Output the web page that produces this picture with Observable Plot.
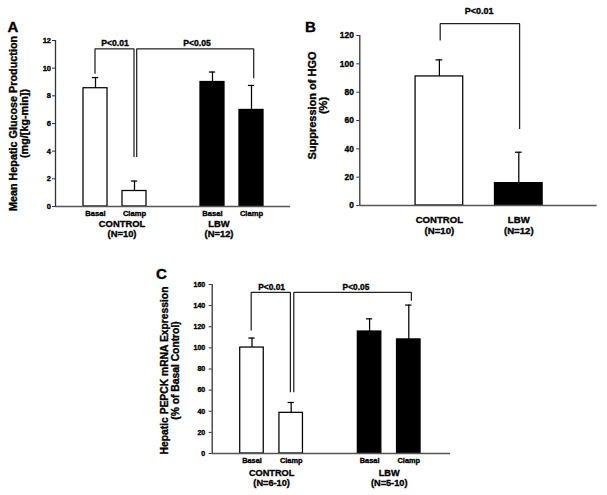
<!DOCTYPE html>
<html><head><meta charset="utf-8">
<script src="https://cdn.jsdelivr.net/npm/d3@7"></script>
<script src="https://cdn.jsdelivr.net/npm/@observablehq/plot@0.6"></script>
<style>
body{margin:0;background:#fff}
#fig{position:relative;width:607px;height:495px;overflow:hidden;background:#fff}
#fig text{stroke:#000;stroke-width:0.35px}
</style></head><body><div id="fig"></div>
<script>
// ---------- Panel A data ----------
const aGroups = ["CONTROL", "LBW"];
const aGroupN = ["(N=10)", "(N=12)"];
const aBarGroup = ["CONTROL", "CONTROL", "LBW", "LBW"];
const aBarLabel = ["Basal", "Clamp", "Basal", "Clamp"];
const aMean = [8.55, 1.12, 9.0, 6.98];
const aSEM = [0.77, 0.72, 0.72, 1.77];
const aYTicks = [0, 2, 4, 6, 8, 10, 12];
const aBrFrom = [0, 1], aBrTo = [1, 3];
const aBrTop = [11.4, 11.4], aBrFromEnd = [9.6, 3.58], aBrToEnd = [3.58, 9.28];
const aBrLabel = ["P<0.01", "P<0.05"];
const aTitle = "Mean Hepatic Glucose Production\n(mg/[kg-min])";

// ---------- Panel B data ----------
const bGroups = ["CONTROL", "LBW"];
const bGroupN = ["(N=10)", "(N=12)"];
const bBarGroup = ["CONTROL", "LBW"];
const bBarLabel = ["", ""];
const bMean = [91.1, 15.8];
const bSEM = [11.7, 21.8];
const bYTicks = [0, 20, 40, 60, 80, 100, 120];
const bBrFrom = [0], bBrTo = [1];
const bBrTop = [128.3], bBrFromEnd = [116.5], bBrToEnd = [54];
const bBrLabel = ["P<0.01"];
const bTitle = "Suppression of HGO\n(%)";

// ---------- Panel C data ----------
const cGroups = ["CONTROL", "LBW"];
const cGroupN = ["(N=6-10)", "(N=5-10)"];
const cBarGroup = ["CONTROL", "CONTROL", "LBW", "LBW"];
const cBarLabel = ["Basal", "Clamp", "Basal", "Clamp"];
const cMean = [100.3, 38.5, 115.5, 108.0];
const cSEM = [9.0, 9.8, 12.0, 32.5];
const cYTicks = [0, 20, 40, 60, 80, 100, 120, 140, 160];
const cBrFrom = [0, 1], cBrTo = [1, 3];
const cBrTop = [152.5, 152.5], cBrFromEnd = [116.5, 58], cBrToEnd = [58, 144.5];
const cBrLabel = ["P<0.01", "P<0.05"];
const cTitle = "Hepatic PEPCK mRNA Expression\n(% of Basal Control)";

const groupFill = {CONTROL: "white", LBW: "black"};
const FONT = '"Liberation Sans", Arial, Helvetica, sans-serif';

function makeBars(groups, barGroup, barLabel, mean, sem, perGroup) {
  const seen = {};
  return mean.map((m, i) => {
    const g = barGroup[i];
    const gi = groups.indexOf(g);
    seen[g] = (seen[g] ?? -1) + 1;
    return {x: gi * (perGroup + 1) + seen[g], mean: m, sem: sem[i], label: barLabel[i], group: g, fill: groupFill[g]};
  });
}

function panel(d, s) {
  const bars = makeBars(d.groups, d.barGroup, d.barLabel, d.mean, d.sem, d.perGroup);
  const lw = 1.25;
  const marks = [
    Plot.rect(bars, {x1: b => b.x - s.barHalf, x2: b => b.x + s.barHalf, y1: 0, y2: "mean", fill: "fill", stroke: "black", strokeWidth: lw}),
    Plot.ruleX(bars, {x: "x", y1: "mean", y2: b => b.mean + b.sem, stroke: "black", strokeWidth: lw}),
    Plot.ruleY(bars, {y: b => b.mean + b.sem, x1: b => b.x - s.capHalf, x2: b => b.x + s.capHalf, stroke: "black", strokeWidth: lw}),
    Plot.ruleY([0], {stroke: "#555", strokeWidth: 1.3}),
    Plot.ruleX([s.xDomain[0]], {stroke: "#333", strokeWidth: 1.3}),
    Plot.axisY(d.yTicks, {tickSize: 3, tickPadding: s.tickPadding, fontSize: s.tickFont, label: null, stroke: "#333"}),
    Plot.text([d.title], {frameAnchor: "left", text: t => t, rotate: -90, textAnchor: "middle", lineAnchor: "middle",
      dx: s.titleDx, dy: s.titleDy, fontSize: s.titleFont, lineHeight: s.titleLH}),
    Plot.text([s.letter], {frameAnchor: "top-left", text: t => t, textAnchor: "middle", lineAnchor: "middle",
      dx: s.letterDx, dy: s.letterDy, fontSize: 15})
  ];
  if (s.condFont) {
    marks.push(Plot.text(bars, {x: "x", y: 0, text: "label", dy: s.condDy, fontSize: s.condFont, lineAnchor: "middle"}));
  }
  d.groups.forEach((g, gi) => {
    const xs = bars.filter(b => b.group === g).map(b => b.x);
    marks.push(Plot.text([g + "\n" + d.groupN[gi]], {x: d3.mean(xs), y: 0, text: t => t, dy: s.groupDy, dx: s.groupDx[gi],
      fontSize: s.groupFont, lineHeight: s.groupLH, lineAnchor: "middle"}));
  });
  d.brFrom.forEach((f, j) => {
    const x1 = bars[f].x, x2 = bars[d.brTo[j]].x;
    const pts = [{x: x1, y: d.brFromEnd[j]}, {x: x1, y: d.brTop[j]}, {x: x2, y: d.brTop[j]}, {x: x2, y: d.brToEnd[j]}];
    marks.push(Plot.line(pts, {x: "x", y: "y", stroke: "#222", strokeWidth: lw, dx: s.brDx[j], strokeLinejoin: "miter", strokeLinecap: "butt"}));
    marks.push(Plot.text([d.brLabel[j]], {x: (x1 + x2) / 2, y: d.brTop[j], text: t => t, dy: s.brLabelDy, dx: s.brLabelDx[j],
      fontSize: s.brFont, lineAnchor: "middle"}));
  });
  const svg = Plot.plot({
    width: s.width, height: s.height,
    marginLeft: s.ml, marginRight: s.mr, marginTop: s.mt, marginBottom: s.mb,
    x: {domain: s.xDomain, axis: null},
    y: {domain: d.yDomain},
    color: {type: "identity"},
    marks
  });
  svg.style.position = "absolute";
  svg.style.left = s.left + "px";
  svg.style.top = s.top + "px";
  svg.style.overflow = "visible";
  svg.style.background = "transparent";
  svg.style.fontFamily = FONT;
  svg.style.fontWeight = "bold";
  svg.style.color = "black";
  svg.style.maxWidth = "none";
  document.getElementById("fig").appendChild(svg);
}

panel(
  {groups: aGroups, groupN: aGroupN, barGroup: aBarGroup, barLabel: aBarLabel, mean: aMean, sem: aSEM, perGroup: 2,
   yDomain: [0, 12], yTicks: aYTicks, brFrom: aBrFrom, brTo: aBrTo, brTop: aBrTop, brFromEnd: aBrFromEnd, brToEnd: aBrToEnd,
   brLabel: aBrLabel, title: aTitle},
  {left: 0, top: 0, width: 300, height: 245, ml: 55, mr: 10, mt: 40, mb: 39,
   xDomain: [-1.0256, 5.0], barHalf: 0.308, capHalf: 0.08, tickPadding: 1.5, tickFont: 7.5,
   titleDx: -36.6, titleDy: 0, titleFont: 10.8, titleLH: 1.05, letter: "A", letterDx: -42.5, letterDy: -13,
   condFont: 7.6, condDy: 6.8, groupFont: 9.4, groupDy: 22, groupLH: 1.12, groupDx: [7, -13],
   brDx: [-0.5, 2.2], brLabelDx: [0, 4], brLabelDy: -6, brFont: 8.6});

panel(
  {groups: bGroups, groupN: bGroupN, barGroup: bBarGroup, barLabel: bBarLabel, mean: bMean, sem: bSEM, perGroup: 1,
   yDomain: [0, 120], yTicks: bYTicks, brFrom: bBrFrom, brTo: bBrTo, brTop: bBrTop, brFromEnd: bBrFromEnd, brToEnd: bBrToEnd,
   brLabel: bBrLabel, title: bTitle},
  {left: 300, top: 0, width: 307, height: 245, ml: 59.3, mr: 10.3, mt: 35, mb: 40,
   xDomain: [-2.005, 3.975], barHalf: 0.6, capHalf: 0.085, tickPadding: 3, tickFont: 8.4,
   titleDx: -41.8, titleDy: -15, titleFont: 11, titleLH: 1.05, letter: "B", letterDx: -49.3, letterDy: -8,
   condFont: 0, condDy: 0, groupFont: 9.6, groupDy: 19.5, groupLH: 1.16, groupDx: [0, 0],
   brDx: [0.8], brLabelDx: [0], brLabelDy: -13, brFont: 9});

panel(
  {groups: cGroups, groupN: cGroupN, barGroup: cBarGroup, barLabel: cBarLabel, mean: cMean, sem: cSEM, perGroup: 2,
   yDomain: [0, 160], yTicks: cYTicks, brFrom: cBrFrom, brTo: cBrTo, brTop: cBrTop, brFromEnd: cBrFromEnd, brToEnd: cBrToEnd,
   brLabel: cBrLabel, title: cTitle},
  {left: 130, top: 245, width: 330, height: 250, ml: 81.7, mr: 10, mt: 39, mb: 42,
   xDomain: [-1.015, 5.064], barHalf: 0.3, capHalf: 0.08, tickPadding: 4, tickFont: 7,
   titleDx: -42.5, titleDy: 1.5, titleFont: 10.3, titleLH: 1.13, letter: "C", letterDx: -50.7, letterDy: -10,
   condFont: 7.4, condDy: 7.5, groupFont: 9.2, groupDy: 24, groupLH: 1.15, groupDx: [0, 0],
   brDx: [-0.8, 2.6], brLabelDx: [0, 6], brLabelDy: -5.5, brFont: 8.4});
</script>
</body></html>
